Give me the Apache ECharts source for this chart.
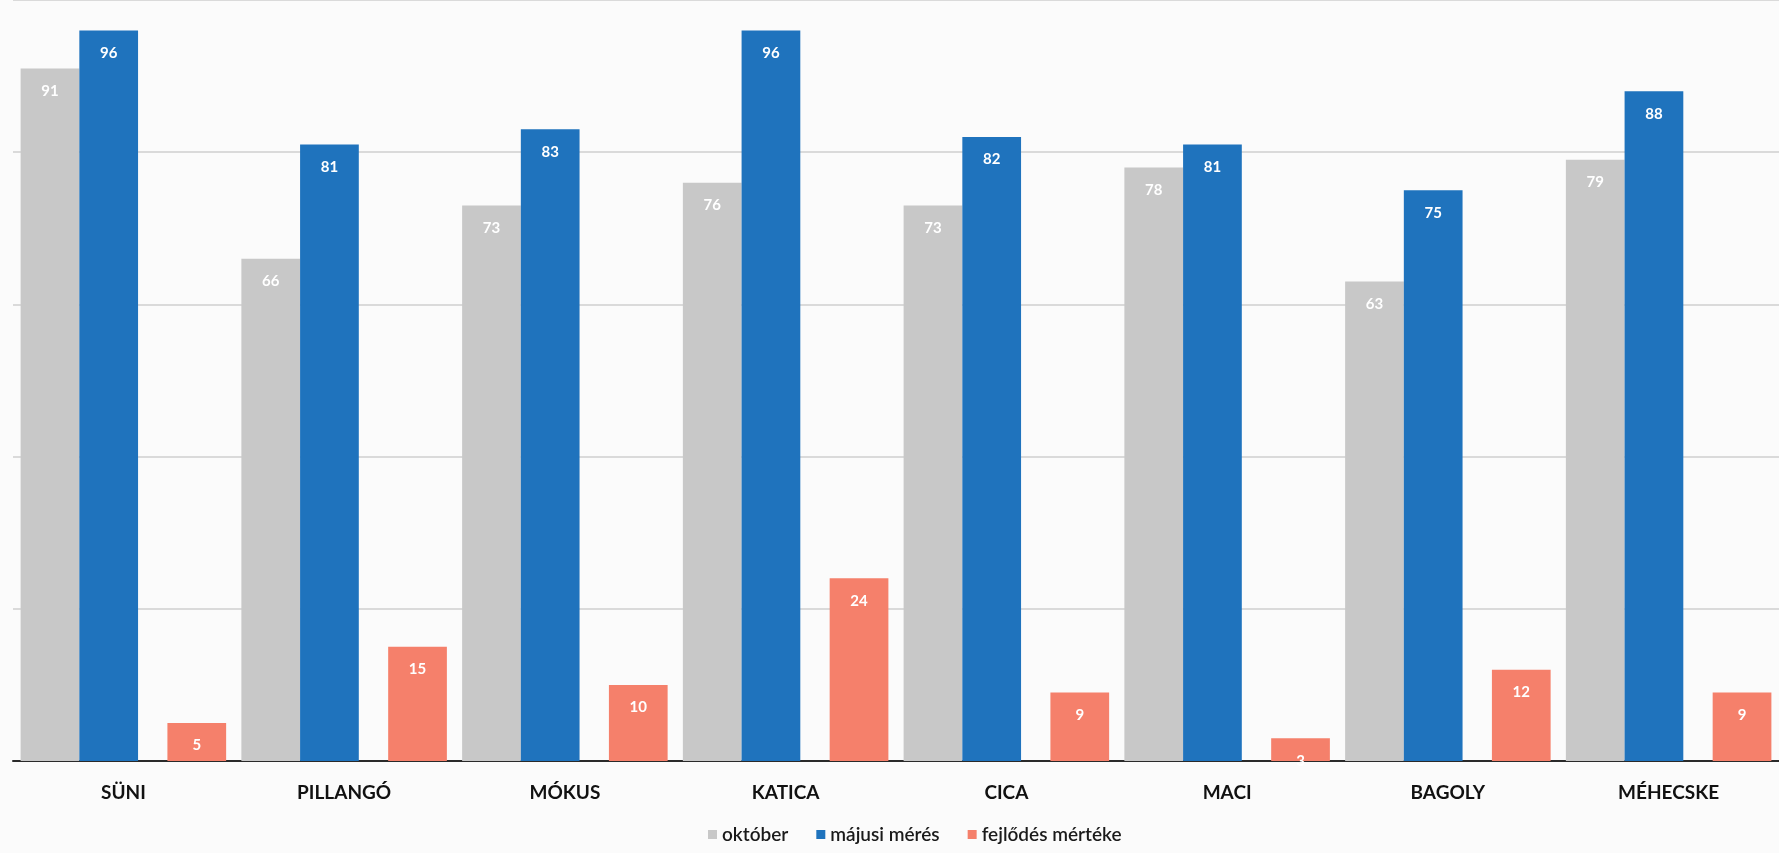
<!DOCTYPE html>
<html>
<head>
<meta charset="utf-8">
<script src="https://cdn.jsdelivr.net/npm/echarts@6/dist/echarts.min.js"></script>
<style>
html,body{margin:0;padding:0;background:#fbfbfb;}
#c{width:1779px;height:853px;}
</style>
</head>
<body>
<div id="c"></div>
<script>
const categories = ['SÜNI', 'PILLANGÓ', 'MÓKUS', 'KATICA', 'CICA', 'MACI', 'BAGOLY', 'MÉHECSKE'];
const oktober = [91, 66, 73, 76, 73, 78, 63, 79];
const majusi = [96, 81, 83, 96, 82, 81, 75, 88];
const fejlodes = [5, 15, 10, 24, 9, 3, 12, 9];
const seriesNames = ['október', 'májusi mérés', 'fejlődés mértéke'];
const yTicks = { min: 0, max: 100, interval: 20 };
const emptySlot = categories.map(() => '-');

const font = 'Lato, "Open Sans", sans-serif';
const label = {
  show: true, position: 'insideTop', distance: 15,
  color: '#ffffff', fontWeight: 'bold', fontSize: 15, fontFamily: font
};
const BW = '26.6%';

const chart = echarts.init(document.getElementById('c'));
chart.setOption({
  backgroundColor: '#fbfbfb',
  animation: false,
  grid: { left: 13, right: -10, top: -18, bottom: 92 },
  legend: {
    data: seriesNames,
    bottom: 4, left: 703,
    itemWidth: 9, itemHeight: 9, itemGap: 28,
    icon: 'rect',
    textStyle: { fontSize: 19, color: '#1a1a1a', fontFamily: font, fontWeight: 600 }
  },
  xAxis: [
    {
      type: 'category', data: categories,
      axisLine: { lineStyle: { color: '#2a2a2a', width: 2 } },
      axisTick: { show: false },
      axisLabel: { color: '#111', fontSize: 19, fontWeight: 'bold', fontFamily: font, margin: 22 }
    },
    { type: 'category', data: categories, show: false }
  ],
  yAxis: {
    type: 'value', min: yTicks.min, max: yTicks.max, interval: yTicks.interval,
    axisLine: { show: false }, axisTick: { show: false }, axisLabel: { show: false },
    splitLine: { lineStyle: { color: '#cfcfcf', width: 1.5 } }
  },
  series: [
    { name: seriesNames[0], type: 'bar', xAxisIndex: 0, data: oktober, barWidth: BW,
      itemStyle: { color: '#c8c8c8' }, label },
    { name: seriesNames[1], type: 'bar', xAxisIndex: 0, data: majusi, barWidth: BW,
      itemStyle: { color: '#1f73bd' }, label },
    { name: 'spacer-a', type: 'bar', xAxisIndex: 0, data: emptySlot, barWidth: '39.9%', barGap: '0%',
      silent: true, itemStyle: { color: 'transparent' } },
    { name: 'spacer-b', type: 'bar', xAxisIndex: 1, data: emptySlot, barWidth: '66.5%',
      silent: true, itemStyle: { color: 'transparent' } },
    { name: seriesNames[2], type: 'bar', xAxisIndex: 1, data: fejlodes, barWidth: BW, barGap: '0%',
      itemStyle: { color: '#f5806b' }, label }
  ]
});
</script>
</body>
</html>
